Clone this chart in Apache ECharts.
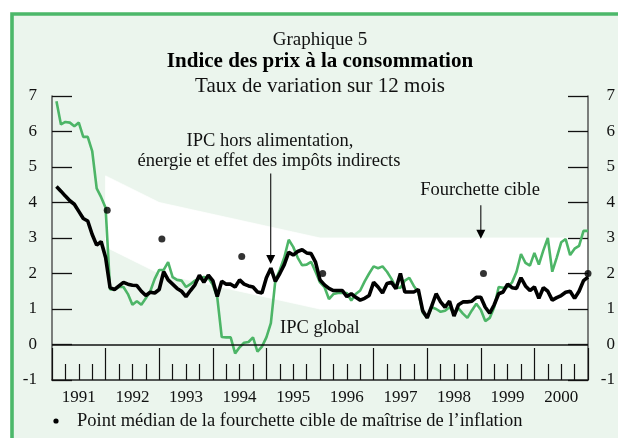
<!DOCTYPE html>
<html><head><meta charset="utf-8">
<script src="https://cdn.jsdelivr.net/npm/echarts@6/dist/echarts.min.js"></script>
<style>html,body{margin:0;padding:0;background:#fff}#c{width:618px;height:438px}</style>
</head><body><div id="c"></div>
<script>
// ---- data ----
const years = ['1991','1992','1993','1994','1995','1996','1997','1998','1999','2000'];
const yTicks = [-1,0,1,2,3,4,5,6,7];
// IPC global (12-month change), monthly Jan 1991 - Dec 2000
const cpiTotal = [
  6.85,6.2,6.27,6.25,6.15,6.25,5.85,5.85,5.45,4.4,4.15,3.85,
  1.55,1.55,1.62,1.62,1.42,1.12,1.22,1.12,1.3,1.5,1.85,2.1,
  2.1,2.32,1.9,1.82,1.8,1.62,1.7,1.8,1.85,1.9,1.88,1.68,
  1.33,0.21,0.2,0.2,-0.25,-0.08,0.05,0.07,0.2,-0.2,-0.06,0.2,
  0.6,1.8,2.1,2.45,2.95,2.75,2.45,2.23,2.25,2.33,2.05,1.75,
  1.62,1.28,1.42,1.45,1.45,1.45,1.24,1.42,1.52,1.78,2.0,2.2,
  2.15,2.2,2.05,1.85,1.6,1.6,1.8,1.88,1.65,1.48,0.9,0.75,
  1.05,1.0,0.92,0.95,1.05,0.88,1.02,0.87,0.75,0.96,1.15,0.98,
  0.66,0.75,1.05,1.62,1.6,1.62,1.75,2.05,2.55,2.3,2.22,2.58,
  2.25,2.65,3.0,2.05,2.45,2.88,2.97,2.52,2.7,2.78,3.2,3.2
];
// IPC hors alimentation, énergie et effet des impôts indirects
const cpiCore = [
  4.45,4.32,4.18,4.05,3.95,3.75,3.55,3.48,3.1,2.8,2.9,2.45,
  1.6,1.55,1.65,1.75,1.7,1.67,1.66,1.5,1.38,1.47,1.45,1.55,
  2.05,1.82,1.7,1.58,1.5,1.35,1.52,1.68,1.95,1.75,1.95,1.8,
  1.35,1.78,1.7,1.7,1.62,1.82,1.7,1.65,1.62,1.48,1.45,1.88,
  2.15,1.78,2.0,2.25,2.6,2.52,2.62,2.67,2.58,2.56,2.32,1.82,
  1.68,1.58,1.52,1.52,1.52,1.35,1.43,1.33,1.25,1.3,1.38,1.75,
  1.62,1.45,1.72,1.75,1.57,2.0,1.48,1.48,1.48,1.55,0.95,0.75,
  1.08,1.43,1.2,1.05,1.22,0.8,1.12,1.2,1.2,1.22,1.33,1.33,
  1.05,0.88,1.12,1.43,1.48,1.7,1.6,1.58,1.88,1.65,1.52,1.62,
  1.3,1.6,1.5,1.25,1.32,1.38,1.47,1.5,1.3,1.5,1.8,1.9
];
// Target band (Fourchette cible)
const bandX = [1992.0, 1993.0, 1996.0, 2001.0];
const bandLower = [2.75, 2.0, 1.0, 1.0];
const bandUpper = [4.75, 4.0, 3.0, 3.0];
// Midpoints of target range
const midX = [1992.03, 1993.05, 1994.54, 1996.05, 1999.05, 2001.0];
const midY = [3.78, 2.97, 2.48, 2.0, 2.0, 2.0];

// monthly x positions (end of month, decimal years)
const monthX = [];
for (let y = 1991; y <= 2000; y++) for (let m = 1; m <= 12; m++) monthX.push(y + m / 12);

const FONT = 'Liberation Serif';
const BG = '#ebf5ed';
const GREEN = '#4db567';

const chart = echarts.init(document.getElementById('c'), null, {renderer: 'canvas'});

const axisCommonY = {
  type: 'value', min: -1, max: 7, interval: 1, z: 3,
  axisLine: {show: true, lineStyle: {color: '#555', width: 1.5}},
  axisTick: {show: true, inside: true, length: 20, lineStyle: {color: '#111', width: 1.3}},
  splitLine: {show: false},
  axisLabel: {fontFamily: FONT, fontSize: 17, color: '#111',
    formatter: v => yTicks.includes(v) ? String(v) : ''}
};

const option = {
  backgroundColor: '#ffffff',
  animation: false,
  grid: {left: 52, right: 30, top: 96, bottom: 58},
  xAxis: [
    {type: 'value', min: 1991, max: 2001, interval: 1, z: 3,
      axisLine: {show: true, onZero: false, lineStyle: {color: '#222', width: 1.5}},
      axisTick: {show: true, inside: true, length: 32, lineStyle: {color: '#111', width: 1.2}},
      minorTick: {show: true, splitNumber: 4, length: 16, lineStyle: {color: '#111', width: 1.2}},
      axisLabel: {show: false}, splitLine: {show: false}},
    {type: 'category', data: years, position: 'bottom', boundaryGap: true,
      axisLine: {show: false}, axisTick: {show: false},
      axisLabel: {fontFamily: FONT, fontSize: 17, color: '#111', margin: 9}}
  ],
  yAxis: [
    Object.assign({}, axisCommonY, {position: 'left', axisLabel: Object.assign({}, axisCommonY.axisLabel, {margin: 15})}),
    Object.assign({}, axisCommonY, {position: 'right', axisLabel: Object.assign({}, axisCommonY.axisLabel, {margin: 27, align: 'right'})})
  ],
  series: [
    {
      type: 'custom', name: 'band', z: 1, silent: true,
      data: bandX.map((x, i) => [x, bandLower[i], bandUpper[i]]),
      renderItem: function (params, api) {
        const i = params.dataIndex;
        if (i >= bandX.length - 1) return null;
        const p1 = api.coord([bandX[i], bandUpper[i]]);
        const p2 = api.coord([bandX[i + 1], bandUpper[i + 1]]);
        const p3 = api.coord([bandX[i + 1], bandLower[i + 1]]);
        const p4 = api.coord([bandX[i], bandLower[i]]);
        return {type: 'polygon', shape: {points: [p1, p2, p3, p4]},
          style: {fill: '#ffffff', stroke: '#ffffff', lineWidth: 0.8}};
      }
    },
    {
      type: 'line', name: 'IPC global', z: 4, showSymbol: false, symbol: 'none',
      data: monthX.map((x, i) => [x, cpiTotal[i]]),
      lineStyle: {color: GREEN, width: 2.6},
      markLine: {silent: true, symbol: 'none', label: {show: false},
        lineStyle: {color: '#111', width: 1.5, type: 'solid'}, data: [{yAxis: 0}]}
    },
    {
      type: 'line', name: 'IPC hors', z: 5, showSymbol: false, symbol: 'none',
      data: monthX.map((x, i) => [x, cpiCore[i]]),
      lineStyle: {color: '#000', width: 3.6}
    },
    {
      type: 'scatter', name: 'Point médian', z: 6, clip: false,
      data: midX.map((x, i) => [x, midY[i]]),
      symbolSize: 7, itemStyle: {color: '#000'}
    }
  ]
};
chart.setOption(option);

// annotations placed from data coordinates
const arrows = [
  {x: 1995.08, top: 4.82, tip: 2.27},
  {x: 1999.0, top: 3.92, tip: 2.98}
];
const SF = '"Liberation Serif"';
const g = [
  {type: 'rect', z: -100, shape: {x: 12, y: 14, width: 640, height: 460},
    style: {fill: BG, stroke: '#4cb86a', lineWidth: 3.6}},
  {type: 'text', x: 320, y: 40, style: {text: 'Graphique 5', font: '19px ' + SF, fill: '#111', align: 'center', verticalAlign: 'middle'}},
  {type: 'text', x: 320, y: 62, style: {text: 'Indice des prix à la consommation', font: 'bold 21px ' + SF, fill: '#000', align: 'center', verticalAlign: 'middle'}},
  {type: 'text', x: 320, y: 86, style: {text: 'Taux de variation sur 12 mois', font: '21px ' + SF, fill: '#111', align: 'center', verticalAlign: 'middle'}},
  {type: 'text', x: 270, y: 141, z: 10, style: {text: 'IPC hors alimentation,', font: '18.5px ' + SF, fill: '#111', align: 'center', verticalAlign: 'middle'}},
  {type: 'text', x: 269, y: 161, z: 10, style: {text: 'énergie et effet des impôts indirects', font: '18.5px ' + SF, fill: '#111', align: 'center', verticalAlign: 'middle'}},
  {type: 'text', x: 480, y: 190, z: 10, style: {text: 'Fourchette cible', font: '18.5px ' + SF, fill: '#111', align: 'center', verticalAlign: 'middle'}},
  {type: 'text', x: 280, y: 328, z: 10, style: {text: 'IPC global', font: '18.5px ' + SF, fill: '#111', align: 'left', verticalAlign: 'middle'}},
  {type: 'circle', shape: {cx: 56, cy: 421, r: 2.6}, style: {fill: '#000'}},
  {type: 'text', x: 77, y: 421, style: {text: 'Point médian de la fourchette cible de maîtrise de l\u2019inflation', font: '18.5px ' + SF, fill: '#111', align: 'left', verticalAlign: 'middle'}}
];
arrows.forEach(a => {
  const t = chart.convertToPixel({gridIndex: 0}, [a.x, a.top]);
  const b = chart.convertToPixel({gridIndex: 0}, [a.x, a.tip]);
  g.push({type: 'line', z: 10, shape: {x1: t[0], y1: t[1], x2: b[0], y2: b[1] - 6}, style: {stroke: '#222', lineWidth: 1.2}});
  g.push({type: 'polygon', z: 10, shape: {points: [[b[0] - 4.5, b[1] - 9], [b[0] + 4.5, b[1] - 9], [b[0], b[1]]]}, style: {fill: '#000'}});
});
chart.setOption({graphic: g});
</script>
</body></html>
